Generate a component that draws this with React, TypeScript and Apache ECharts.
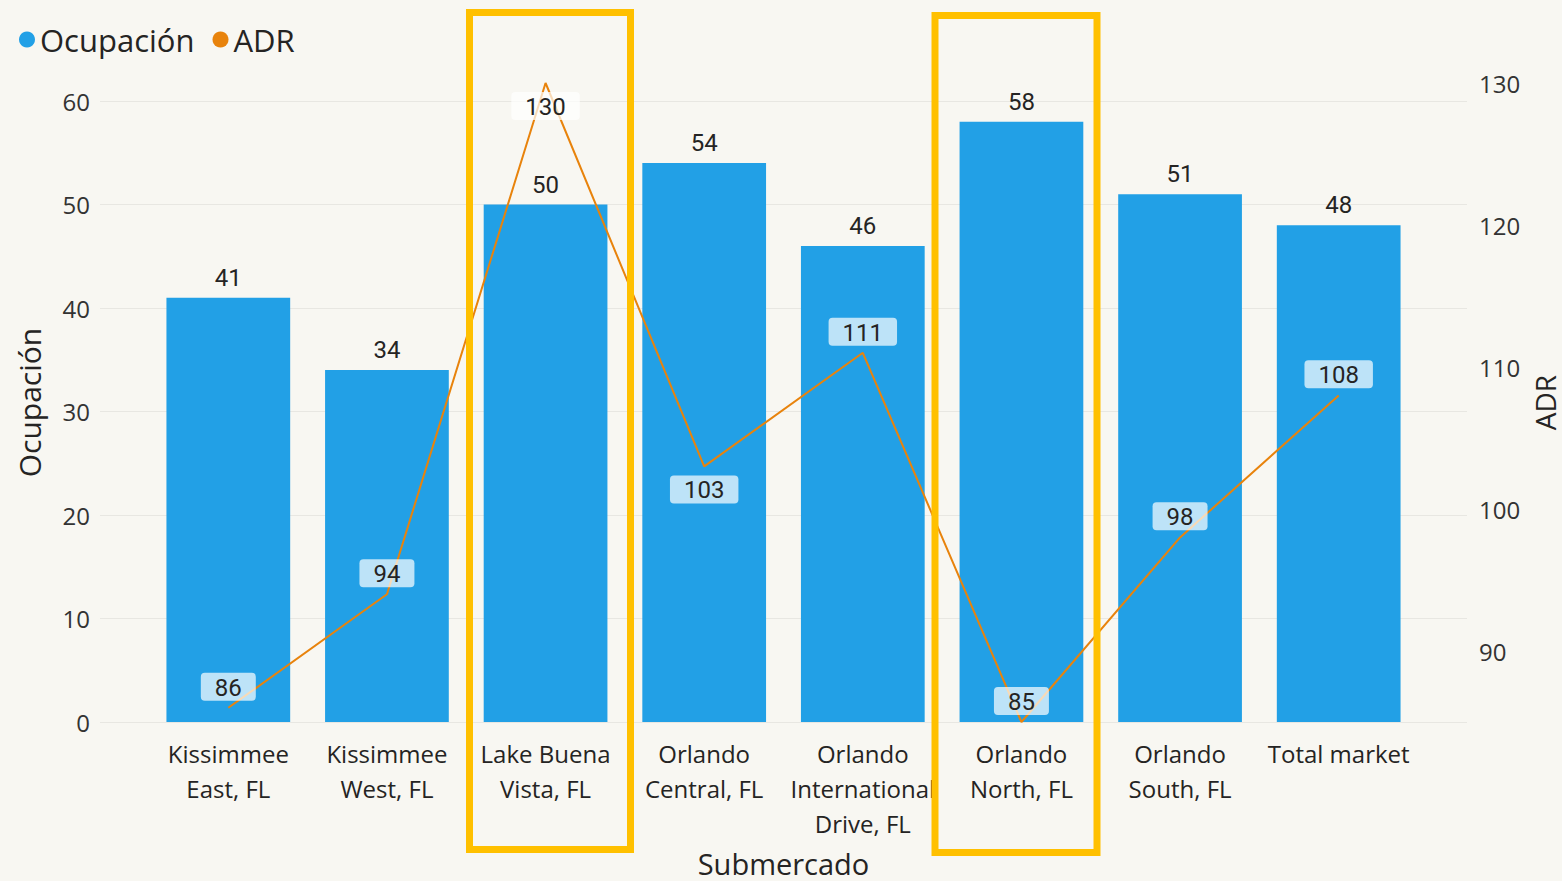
import React, { useEffect, useRef } from "react";
import * as echarts from "echarts";

const categories = [
  "Kissimmee\nEast, FL",
  "Kissimmee\nWest, FL",
  "Lake Buena\nVista, FL",
  "Orlando\nCentral, FL",
  "Orlando\nInternational\nDrive, FL",
  "Orlando\nNorth, FL",
  "Orlando\nSouth, FL",
  "Total market",
];
const ocupacion = [41, 34, 50, 54, 46, 58, 51, 48];
const adr = [86, 94, 130, 103, 111, 85, 98, 108];
const leftRange = [0, 61.74];
const rightRange = [85, 130];

const BG = "#f8f7f2";
const BLUE = "#22a0e6";
const ORANGE = "#e8830c";
const YELLOW = "#ffc000";
const TXT = "#252423";
const FONT = "'Open Sans', sans-serif";
const NUMFONT = "Roboto, sans-serif";

export default function App() {
  const ref = useRef<HTMLDivElement>(null);
  useEffect(() => {
    if (!ref.current) return;
    const chart = echarts.init(ref.current, null, { renderer: "svg" });
    const belowIdx = [2, 3];
    const lineData = adr.map((v, i) =>
      belowIdx.includes(i)
        ? { value: v, label: { position: "bottom", distance: 9 } }
        : v
    );
    const tenFmt = (v: number) => (Math.abs(v % 10) < 1e-6 ? String(v) : "");
    chart.setOption({
      animation: false,
      backgroundColor: BG,
      textStyle: { fontFamily: FONT },
      legend: {
        left: 14,
        top: 19,
        icon: "circle",
        itemWidth: 16,
        itemHeight: 16,
        itemGap: 18,
        textStyle: { fontSize: 31, color: TXT, fontFamily: FONT },
        data: ["Ocupación", "ADR"],
      },
      grid: [
        { left: 100, right: 95, top: 83, bottom: 159, outerBoundsMode: "none", containLabel: false },
        { left: 149, right: 144, top: 83, bottom: 159, outerBoundsMode: "none", containLabel: false },
      ],
      xAxis: [
        { type: "value", gridIndex: 0, show: false, min: 0, max: 1 },
        {
          type: "category",
          gridIndex: 1,
          data: categories,
          axisLine: { show: false },
          axisTick: { show: false },
          axisLabel: {
            interval: 0,
            margin: 14,
            fontSize: 24,
            lineHeight: 35,
            color: TXT,
            fontFamily: FONT,
          },
          name: "Submercado",
          nameLocation: "middle",
          nameGap: 126,
          nameMoveOverlap: false,
          nameTextStyle: { fontSize: 29, lineHeight: 30, color: TXT, fontFamily: FONT },
        },
      ],
      yAxis: [
        {
          type: "value",
          gridIndex: 0,
          position: "left",
          min: leftRange[0],
          max: leftRange[1],
          interval: 10,
          axisLine: { show: false },
          axisTick: { show: false },
          axisLabel: {
            formatter: tenFmt,
            showMaxLabel: false,
            margin: 10,
            fontSize: 24,
            color: "#333",
            fontFamily: FONT,
          },
          splitLine: {
            show: true,
            showMaxLine: false,
            lineStyle: { color: "#e8e7e2", width: 1 },
          },
          name: "Ocupación",
          nameLocation: "middle",
          nameRotate: 90,
          nameGap: 56,
          nameMoveOverlap: false,
          nameTextStyle: { fontSize: 30, lineHeight: 30, color: TXT, fontFamily: FONT },
        },
        {
          type: "value",
          gridIndex: 0,
          position: "right",
          min: rightRange[0],
          max: rightRange[1],
          interval: 5,
          axisLine: { show: false },
          axisTick: { show: false },
          splitLine: { show: false },
          axisLabel: {
            formatter: tenFmt,
            margin: 12,
            fontSize: 24,
            color: "#333",
            fontFamily: FONT,
          },
          name: "ADR",
          nameLocation: "middle",
          nameRotate: 90,
          nameGap: 64,
          nameMoveOverlap: false,
          nameTextStyle: { fontSize: 28, lineHeight: 28, color: TXT, fontFamily: FONT },
        },
        {
          type: "value",
          gridIndex: 1,
          show: false,
          min: leftRange[0],
          max: leftRange[1],
          splitLine: { show: false },
        },
        {
          type: "value",
          gridIndex: 1,
          show: false,
          min: rightRange[0],
          max: rightRange[1],
          splitLine: { show: false },
        },
      ],
      series: [
        {
          name: "Ocupación",
          type: "bar",
          xAxisIndex: 1,
          yAxisIndex: 2,
          data: ocupacion,
          barWidth: "78%",
          itemStyle: { color: BLUE },
          label: {
            show: true,
            position: "top",
            distance: 8,
            fontSize: 24,
            color: TXT,
            fontFamily: NUMFONT,
          },
        },
        {
          name: "ADR",
          type: "line",
          xAxisIndex: 1,
          yAxisIndex: 3,
          data: lineData,
          showSymbol: true,
          symbol: "circle",
          symbolSize: 0.1,
          lineStyle: { color: ORANGE, width: 2 },
          itemStyle: { color: ORANGE },
          z: 3,
          label: {
            show: true,
            position: "top",
            distance: 7,
            fontSize: 24,
            lineHeight: 24,
            color: TXT,
            fontFamily: NUMFONT,
            backgroundColor: "rgba(255,255,255,0.7)",
            borderRadius: 4,
            padding: [3, 14, 1, 14],
          },
        },
      ],
      graphic: [
        {
          type: "rect",
          shape: { x: 469.5, y: 12.5, width: 161, height: 837 },
          style: { fill: "none", stroke: YELLOW, lineWidth: 7 },
          z: 100,
        },
        {
          type: "rect",
          shape: { x: 935, y: 15.5, width: 162, height: 837 },
          style: { fill: "none", stroke: YELLOW, lineWidth: 7 },
          z: 100,
        },
      ],
    });
    return () => chart.dispose();
  }, []);
  return (
    <div
      ref={ref}
      style={{ position: "absolute", left: 0, top: 0, width: 1562, height: 881, background: BG }}
    />
  );
}
